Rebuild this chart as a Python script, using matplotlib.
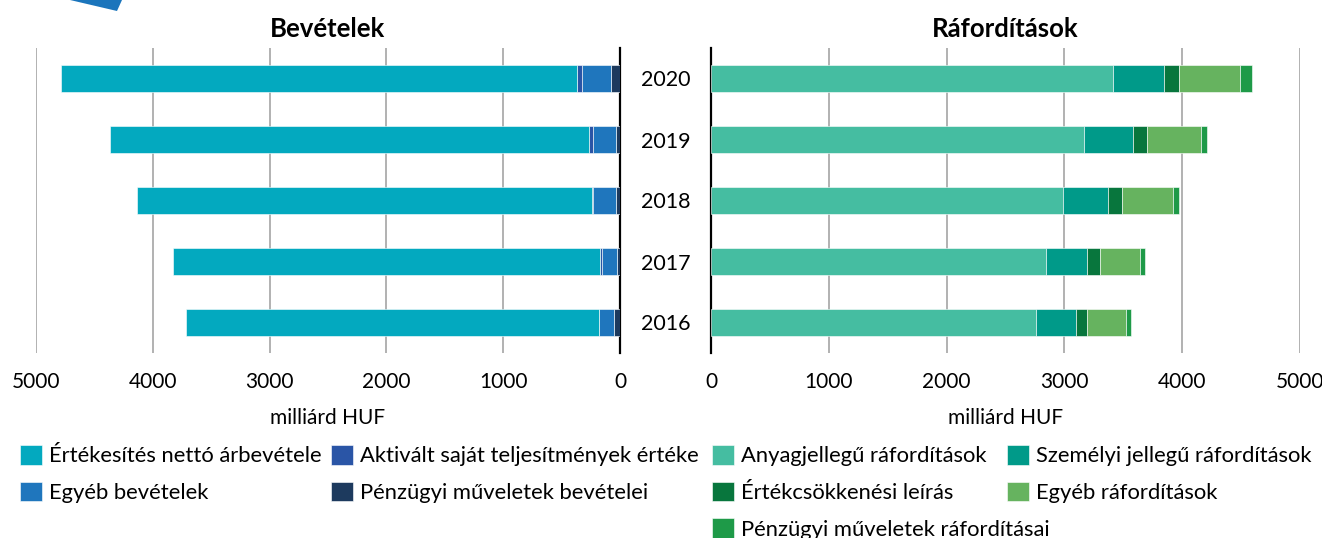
import matplotlib
matplotlib.use("Agg")
import matplotlib.pyplot as plt
from matplotlib.patches import Polygon
import numpy as np

plt.rcParams['font.family'] = ['Lato', 'DejaVu Sans']

# ── data (milliárd HUF) ───────────────────────────────────────────────────────
years = ["2016", "2017", "2018", "2019", "2020"]

# Bevételek
ertekesites = [3532, 3655, 3897, 4101, 4414]
aktivalt = [7, 19, 14, 36, 47]
egyeb_bev = [126, 129, 190, 194, 248]
penzugyi_bev = [51, 26, 37, 37, 76]

# Ráfordítások
anyag = [2755, 2841, 2988, 3164, 3412]
szemelyi = [340, 355, 384, 419, 430]
ertekcsokk = [100, 108, 115, 122, 129]
egyeb_raf = [326, 337, 434, 452, 516]
penzugyi_raf = [47, 46, 53, 51, 107]

xticks = [0, 1000, 2000, 3000, 4000, 5000]

W, H = 1322, 538
fig = plt.figure(figsize=(W / 100, H / 100), dpi=100)


def px_axes(x0, x1, y0, y1):
    return fig.add_axes([x0 / W, 1 - y1 / H, (x1 - x0) / W, (y1 - y0) / H])


axL = px_axes(36, 620, 48, 353)
axR = px_axes(711, 1300, 48, 353)

y = np.arange(len(years))
bh = 0.43


def stack(ax, series, names, colors):
    left = np.zeros(len(years))
    bars = {}
    for vals, name, col in zip(series, names, colors):
        bars[name] = ax.barh(y, vals, left=left, height=bh, color=col,
                             edgecolor="white", linewidth=0.4, label=name, zorder=3)
        left += np.array(vals)
    return bars


# left side: stacked outward from zero, sales on the outside
bL = stack(axL,
           [penzugyi_bev, egyeb_bev, aktivalt, ertekesites],
           ["Pénzügyi műveletek bevételei", "Egyéb bevételek",
            "Aktivált saját teljesítmények értéke", "Értékesítés nettó árbevétele"],
           ["#1d3a5e", "#1f76bd", "#2a55a6", "#03a9bf"])

bR = stack(axR,
           [anyag, szemelyi, ertekcsokk, egyeb_raf, penzugyi_raf],
           ["Anyagjellegű ráfordítások", "Személyi jellegű ráfordítások",
            "Értékcsökkenési leírás", "Egyéb ráfordítások",
            "Pénzügyi műveletek ráfordításai"],
           ["#45bda1", "#009a89", "#08763d", "#66b35f", "#1e9a48"])

for ax in (axL, axR):
    ax.set_ylim(-0.5, len(years) - 0.5)
    ax.set_xticks(xticks)
    ax.set_xticklabels([str(t) for t in xticks], fontsize=15)
    ax.tick_params(axis="x", length=0, pad=14)
    ax.grid(axis="x", color="#ababab", linewidth=1.3, zorder=0)
    ax.set_axisbelow(True)
    for s in ax.spines.values():
        s.set_visible(False)
    ax.set_xlabel("milliárd HUF", fontsize=15, labelpad=11)

axL.set_xlim(5000, 0)
axL.set_yticks([])
axL.spines["right"].set_visible(True)
axL.spines["right"].set_linewidth(1.6)
axL.spines["right"].set_color("black")
axL.set_title("Bevételek", fontsize=18.5, fontweight="bold", pad=8)

axR.set_xlim(0, 5000)
axR.set_yticks(y)
axR.set_yticklabels(years, fontsize=15.5)
axR.tick_params(axis="y", length=0, pad=15)
axR.spines["left"].set_visible(True)
axR.spines["left"].set_linewidth(1.6)
axR.spines["left"].set_color("black")
axR.set_title("Ráfordítások", fontsize=18.5, fontweight="bold", pad=8)

# legends: one per column so each column starts where the reference has it
leg_kw = dict(frameon=False, fontsize=15.8, handlelength=1.0, handleheight=1.0,
              handletextpad=0.3, labelspacing=0.7, borderaxespad=0, borderpad=0,
              loc="upper left")
columns = [
    (20, [bL["Értékesítés nettó árbevétele"], bL["Egyéb bevételek"]]),
    (331, [bL["Aktivált saját teljesítmények értéke"], bL["Pénzügyi műveletek bevételei"]]),
    (712, [bR["Anyagjellegű ráfordítások"], bR["Értékcsökkenési leírás"],
           bR["Pénzügyi műveletek ráfordításai"]]),
    (1007, [bR["Személyi jellegű ráfordítások"], bR["Egyéb ráfordítások"]]),
]
for x0, hs in columns:
    fig.legend(hs, [h.get_label() for h in hs], bbox_to_anchor=(x0 / W, 1 - 445 / H),
               **leg_kw)

# decorative corner shape
fig.patches.append(Polygon([(70 / W, 1.0), (122 / W, 1.0), (117 / W, 1 - 11 / H)],
                           closed=True, transform=fig.transFigure,
                           facecolor="#1b75bc", edgecolor="none"))

fig.savefig("out.png", dpi=100)
